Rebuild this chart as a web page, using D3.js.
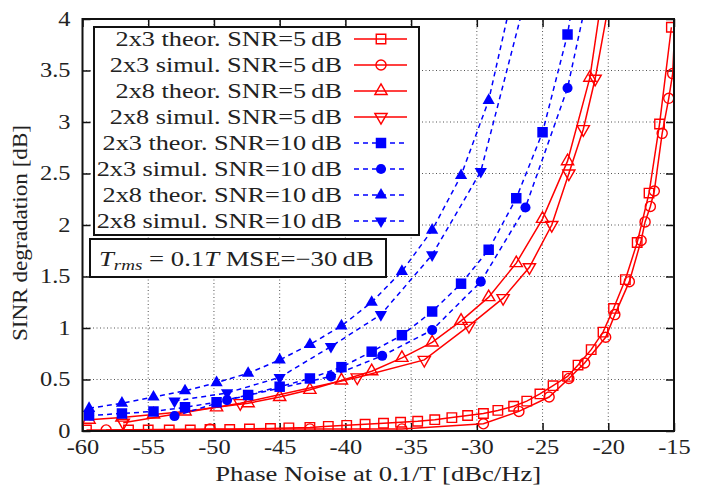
<!DOCTYPE html>
<html>
<head>
<meta charset="utf-8">
<script src="https://cdn.jsdelivr.net/npm/d3@7"></script>
<style>
  body { margin: 0; background: #fff; }
  svg { display: block; }
  text { font-family: "Liberation Serif", "DejaVu Serif", serif; fill: #222; }
</style>
</head>
<body>
<div id="chart"></div>
<script>
// x ticks / y ticks
const xTicks = [-60, -55, -50, -45, -40, -35, -30, -25, -20, -15];
const yTicks = [0, 0.5, 1, 1.5, 2, 2.5, 3, 3.5, 4];

// theoretical curves share a phase-noise grid
const theorGrid = [-59.5, -57, -54.6, -52.2, -49.8, -47.4, -45, -42.7, -40.3, -38, -35.7, -33.4, -31.2, -29.1, -27, -25, -23.1, -21.4, -19.7];

// 2x3 theor. SNR=5dB
const x23t5 = [-59.7, -56.5, -55, -53.4, -51.8, -50.3, -48.8, -47.3, -45.7, -44.3, -42.7, -41.3, -39.9, -38.5, -37.1, -35.8, -34.5, -33.2, -31.9, -30.7, -29.5, -28.4, -27.2, -26.2, -25.2, -24.2, -23.1, -22.3, -21.3, -20.4, -19.6, -18.7, -17.8, -16.9, -16.1, -15.2];
const y23t5 = [0.01, 0.01, 0.01, 0.01, 0.01, 0.015, 0.015, 0.02, 0.025, 0.03, 0.035, 0.045, 0.055, 0.065, 0.075, 0.085, 0.095, 0.11, 0.13, 0.15, 0.17, 0.2, 0.24, 0.29, 0.36, 0.44, 0.53, 0.64, 0.79, 0.96, 1.19, 1.47, 1.83, 2.31, 2.98, 3.92];
// 2x3 simul. SNR=5dB
const x23s5 = [-58.2, -50.3, -42.7, -35.7, -29.5, -26.8, -24.5, -23, -21.8, -20.2, -19.5, -18.4, -17.5, -17.2, -16.8, -16.5, -15.9, -15.4, -15.1, -14.8];
const y23s5 = [0.01, 0.02, 0.02, 0.02, 0.07, 0.19, 0.33, 0.51, 0.66, 0.91, 1.13, 1.45, 1.85, 2.03, 2.18, 2.33, 2.89, 3.23, 3.47, 4.3];
// 2x8 theor. SNR=5dB
const x28t5 = theorGrid;
const y28t5 = [0.11, 0.13, 0.16, 0.19, 0.23, 0.27, 0.33, 0.4, 0.49, 0.58, 0.71, 0.86, 1.07, 1.3, 1.63, 2.06, 2.62, 3.43, 4.9];
// 2x8 simul. SNR=5dB
const x28s5 = [-56.9, -48, -39.1, -34, -30.6, -28, -26, -24.3, -23, -21.9, -21, -20.1];
const y28s5 = [0.08, 0.27, 0.52, 0.69, 1.02, 1.29, 1.59, 2.0, 2.5, 2.93, 3.42, 4.05];
// 2x3 theor. SNR=10dB
const x23t10 = theorGrid.slice(0, 18);
const y23t10 = [0.15, 0.17, 0.19, 0.23, 0.28, 0.35, 0.43, 0.51, 0.62, 0.77, 0.93, 1.16, 1.43, 1.76, 2.26, 2.9, 3.85, 5.2];
// 2x3 simul. SNR=10dB
const x23s10 = [-53, -49, -41.1, -37.2, -33.4, -29.7, -26.3, -23.1, -21.8];
const y23s10 = [0.145, 0.3, 0.53, 0.73, 0.98, 1.45, 2.17, 3.33, 4.1];
// 2x8 theor. SNR=10dB
const x28t10 = theorGrid.slice(0, 15);
const y28t10 = [0.22, 0.27, 0.33, 0.39, 0.47, 0.56, 0.69, 0.84, 1.02, 1.25, 1.55, 1.95, 2.48, 3.21, 4.4];
// 2x8 simul. SNR=10dB
const x28s10 = [-53, -49, -45, -41.1, -37.3, -33.4, -29.7, -26.3];
const y28s10 = [0.29, 0.37, 0.52, 0.82, 1.13, 1.71, 2.52, 4.2];

const seriesNames = [
  "2x3 theor. SNR=5\u2009dB", "2x3 simul. SNR=5\u2009dB", "2x8 theor. SNR=5\u2009dB", "2x8 simul. SNR=5\u2009dB",
  "2x3 theor. SNR=10\u2009dB", "2x3 simul. SNR=10\u2009dB", "2x8 theor. SNR=10\u2009dB", "2x8 simul. SNR=10\u2009dB"
];

const RED = "#ff0000", BLUE = "#0000ff";
const series = [
  {xs: x23t5, ys: y23t5, color: RED, dash: null, shape: "square", filled: false},
  {xs: x23s5, ys: y23s5, color: RED, dash: null, shape: "circle", filled: false},
  {xs: x28t5, ys: y28t5, color: RED, dash: null, shape: "up", filled: false},
  {xs: x28s5, ys: y28s5, color: RED, dash: null, shape: "down", filled: false},
  {xs: x23t10, ys: y23t10, color: BLUE, dash: "5,4", shape: "square", filled: true},
  {xs: x23s10, ys: y23s10, color: BLUE, dash: "5,4", shape: "circle", filled: true},
  {xs: x28t10, ys: y28t10, color: BLUE, dash: "5,4", shape: "up", filled: true},
  {xs: x28s10, ys: y28s10, color: BLUE, dash: "5,4", shape: "down", filled: true}
].map((s, i) => ({...s, name: seriesNames[i], pts: s.xs.map((x, j) => [x, s.ys[j]])}));

const width = 709, height = 490;
const margin = {left: 82.5, right: 35, top: 19, bottom: 59};

const svg = d3.select("#chart").append("svg").attr("width", width).attr("height", height);

// the original type is wide (TeX-like); widen the serif glyphs to match
function widen(sel, k) {
  sel.each(function() {
    const len = this.getComputedTextLength();
    d3.select(this).attr("textLength", len * k).attr("lengthAdjust", "spacingAndGlyphs");
  });
}

const x = d3.scaleLinear().domain([-60, -15]).range([margin.left, width - margin.right]);
const y = d3.scaleLinear().domain([0, 4]).range([height - margin.bottom, margin.top]);

svg.append("clipPath").attr("id", "plotClip").append("rect")
  .attr("x", x(-60)).attr("y", y(4)).attr("width", x(-15) - x(-60)).attr("height", y(0) - y(4));

// grid
const grid = svg.append("g").attr("stroke", "#555").attr("stroke-width", 1).attr("stroke-dasharray", "1,2.5");
grid.selectAll(".gx").data(xTicks.slice(1, -1)).join("line")
  .attr("x1", d => x(d)).attr("x2", d => x(d)).attr("y1", y(0)).attr("y2", y(4));
grid.selectAll(".gy").data(yTicks.slice(1, -1)).join("line")
  .attr("y1", d => y(d)).attr("y2", d => y(d)).attr("x1", x(-60)).attr("x2", x(-15));

// axes with inward ticks on all four sides
svg.append("g").attr("class", "xaxis").attr("transform", `translate(0,${y(0)})`)
  .call(d3.axisBottom(x).tickValues(xTicks).tickSize(-8).tickPadding(9).tickFormat(d => String(d)))
  .call(g => g.select(".domain").remove());
svg.append("g").attr("transform", `translate(0,${y(4)})`)
  .call(d3.axisTop(x).tickValues(xTicks).tickSize(-8).tickFormat(""))
  .call(g => g.select(".domain").remove());
svg.append("g").attr("class", "yaxis").attr("transform", `translate(${x(-60)},0)`)
  .call(d3.axisLeft(y).tickValues(yTicks).tickSize(-8).tickPadding(12).tickFormat(d => String(d)))
  .call(g => g.select(".domain").remove());
svg.append("g").attr("transform", `translate(${x(-15)},0)`)
  .call(d3.axisRight(y).tickValues(yTicks).tickSize(-8).tickFormat(""))
  .call(g => g.select(".domain").remove());
svg.selectAll(".tick line").attr("stroke", "#111").attr("stroke-width", 1.5);
svg.selectAll(".tick text").attr("font-size", 20).attr("fill", "#222")
  .style("font-family", "'Liberation Serif', serif").call(widen, 1.22);

// data lines
const line = d3.line().x(d => x(d[0])).y(d => y(d[1]));
const plot = svg.append("g").attr("clip-path", "url(#plotClip)");
series.forEach(s => {
  plot.append("path").datum(s.pts)
    .attr("fill", "none").attr("stroke", s.color).attr("stroke-width", 1.5)
    .attr("stroke-dasharray", s.dash).attr("d", line);
});

function marker(sel, s) {
  const sym = {square: d3.symbolSquare, circle: d3.symbolCircle, up: d3.symbolTriangle, down: d3.symbolTriangle}[s.shape];
  const size = s.filled ? {square: 110, circle: 80, up: 65, down: 65}[s.shape] : {square: 90, circle: 80, up: 65, down: 65}[s.shape];
  sel.attr("d", d3.symbol(sym, size)())
    .attr("fill", s.filled ? s.color : "none")
    .attr("stroke", s.color).attr("stroke-width", s.filled ? 0 : 1.4);
}

series.forEach(s => {
  const inside = s.pts.filter(p => p[0] >= -60 && p[0] <= -15 && p[1] <= 4);
  plot.append("g").selectAll("path").data(inside).join("path")
    .attr("transform", d => `translate(${x(d[0])},${y(d[1])})${s.shape === "down" ? " rotate(180)" : ""}`)
    .call(marker, s);
});

// frame
svg.append("rect").attr("x", x(-60)).attr("y", y(4)).attr("width", x(-15) - x(-60)).attr("height", y(0) - y(4))
  .attr("fill", "none").attr("stroke", "#111").attr("stroke-width", 2);

// legend
const leg = svg.append("g");
leg.append("rect").attr("x", 94).attr("y", 27).attr("width", 325).attr("height", 208)
  .attr("fill", "#fff").attr("stroke", "#111").attr("stroke-width", 2);
series.forEach((s, i) => {
  const ry = 39 + i * 26;
  leg.append("text").attr("x", 342).attr("y", ry + 7).attr("text-anchor", "end")
    .attr("font-size", 20.5).text(s.name).call(widen, 1.28);
  leg.append("line").attr("x1", 354).attr("x2", 407).attr("y1", ry).attr("y2", ry)
    .attr("stroke", s.color).attr("stroke-width", 1.5).attr("stroke-dasharray", s.dash);
  leg.append("path").attr("transform", `translate(381,${ry})${s.shape === "down" ? " rotate(180)" : ""}`)
    .call(marker, s);
});

// parameter box
const box = svg.append("g");
box.append("rect").attr("x", 90).attr("y", 239).attr("width", 296).attr("height", 38)
  .attr("fill", "#fff").attr("stroke", "#111").attr("stroke-width", 2);
const bt = box.append("text").attr("x", 99).attr("y", 266).attr("font-size", 21);
bt.append("tspan").attr("font-style", "italic").text("T");
bt.append("tspan").attr("font-style", "italic").attr("font-size", 15).attr("dy", 4).text("rms");
bt.append("tspan").attr("dy", -4).text(" = 0.1");
bt.append("tspan").attr("font-style", "italic").text("T");
bt.append("tspan").text("  MSE=\u221230\u2009dB");
bt.call(widen, 1.27);

// axis titles
svg.append("text").attr("x", (x(-60) + x(-15)) / 2).attr("y", 481).attr("text-anchor", "middle")
  .attr("font-size", 20.5).text("Phase Noise at 0.1/T [dBc/Hz]").call(widen, 1.3);
svg.append("text").attr("transform", `translate(27,${(y(0) + y(4)) / 2 + 8}) rotate(-90)`).attr("text-anchor", "middle")
  .attr("font-size", 20.5).text("SINR degradation [dB]").call(widen, 1.13);
</script>
</body>
</html>
